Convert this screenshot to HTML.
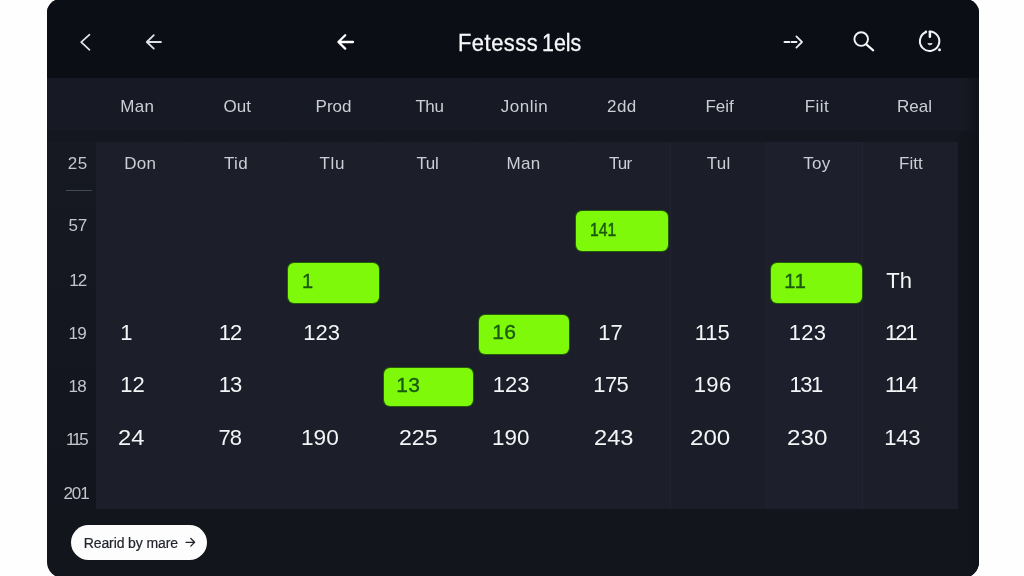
<!DOCTYPE html>
<html lang="en">
<head>
<meta charset="utf-8">
<title>Fetesss 1els</title>
<style>
html,body{margin:0;padding:0;}
body{width:1024px;height:576px;overflow:hidden;background:#fefefe;font-family:"Liberation Sans",sans-serif;position:relative;}
.card{position:absolute;left:46.5px;top:-1px;width:932.5px;height:578.5px;border-radius:14px 14px 16px 16px;background:#13151d;overflow:hidden;}
.topbar{position:absolute;left:0;top:0;width:100%;height:78.5px;background:#0c0e16;}
.wk{position:absolute;left:0;top:78.5px;width:100%;height:53px;background:linear-gradient(90deg,#171a24 0,#171a24 914px,#11131b 931px);}
.band{position:absolute;left:0;top:131.5px;width:100%;height:11px;background:linear-gradient(90deg,#141720 0,#141720 905px,#11131b 928px);}
.leftcol{position:absolute;left:0;top:142.5px;width:49px;height:367px;background:linear-gradient(180deg,#161822,#13151e);}
.grid{position:absolute;left:49px;top:142.5px;width:862.5px;height:367px;background:#1c1f2a;}
.edge{position:absolute;left:920.5px;top:142.5px;width:12px;height:450px;background:linear-gradient(90deg,#13151d,#0f1118);}
.col{position:absolute;top:0;height:100%;}
.vl{position:absolute;top:0;height:100%;width:1px;}
.t{position:absolute;white-space:nowrap;line-height:1;margin:0;}
.txt{position:absolute;left:0;top:0;width:1024px;height:576px;will-change:transform;}
.pill{position:absolute;background:#7ef909;border-radius:6px;box-shadow:0 0 0 1px #245c0b;}
.btn{position:absolute;left:70.5px;top:525px;width:136.5px;height:35px;border-radius:18px;background:#fdfdfd;}
.ul{position:absolute;left:65.5px;top:190.2px;width:26.5px;height:1.2px;background:#454a58;}
svg{position:absolute;left:0;top:0;}
</style>
</head>
<body>
<div class="card">
  <div class="topbar"></div>
  <div class="wk"></div>
  <div class="band"></div>
  <div class="leftcol"></div>
  <div class="grid">
    <div class="col" style="left:575.4px;width:95.9px;background:#1b1e29;"></div>
    <div class="col" style="left:671.3px;width:95.9px;background:#1d202c;"></div>
    <div class="col" style="left:767.2px;width:95.3px;background:#1c1f2a;"></div>
    <div class="vl" style="left:95.4px;background:rgba(255,255,255,0.006);"></div>
    <div class="vl" style="left:191.3px;background:rgba(255,255,255,0.006);"></div>
    <div class="vl" style="left:287.2px;background:rgba(255,255,255,0.006);"></div>
    <div class="vl" style="left:383.1px;background:rgba(255,255,255,0.006);"></div>
    <div class="vl" style="left:479.0px;background:rgba(255,255,255,0.006);"></div>
    <div class="vl" style="left:574.9px;background:rgba(255,255,255,0.022);"></div>
    <div class="vl" style="left:670.8px;background:rgba(255,255,255,0.022);"></div>
    <div class="vl" style="left:766.7px;background:rgba(255,255,255,0.022);"></div>
  </div>
  <div class="edge"></div>
</div>
<div class="ul"></div>
<div class="pill" style="left:575.6px;top:210.7px;width:92.8px;height:40.3px;"></div>
<div class="pill" style="left:287.5px;top:262.5px;width:91px;height:40px;"></div>
<div class="pill" style="left:771px;top:262.5px;width:91px;height:40px;"></div>
<div class="pill" style="left:478.5px;top:315.2px;width:90.5px;height:38.7px;"></div>
<div class="pill" style="left:383.5px;top:367.5px;width:89px;height:38.5px;"></div>
<div class="btn"></div>
<div class="txt">
<div class="t" style="left:120.3px;top:98.1px;font-size:17px;color:#cbced5;letter-spacing:0.3px;">Man</div>
<div class="t" style="left:223.5px;top:98.0px;font-size:17px;color:#cbced5;">Out</div>
<div class="t" style="left:315.6px;top:98.1px;font-size:17px;color:#cbced5;">Prod</div>
<div class="t" style="left:415.4px;top:98.1px;font-size:17px;color:#cbced5;letter-spacing:-0.4px;">Thu</div>
<div class="t" style="left:500.8px;top:98.1px;font-size:17px;color:#cbced5;letter-spacing:0.5px;">Jonlin</div>
<div class="t" style="left:607.1px;top:98.1px;font-size:17px;color:#cbced5;letter-spacing:0.4px;">2dd</div>
<div class="t" style="left:705.4px;top:98.1px;font-size:17px;color:#cbced5;">Feif</div>
<div class="t" style="left:804.8px;top:98.1px;font-size:17px;color:#cbced5;letter-spacing:0.4px;">Fiit</div>
<div class="t" style="left:897.0px;top:98.1px;font-size:17px;color:#cbced5;">Real</div>
<div class="t" style="left:124.3px;top:154.5px;font-size:17px;color:#cbced5;letter-spacing:0.2px;">Don</div>
<div class="t" style="left:223.9px;top:154.5px;font-size:17px;color:#cbced5;letter-spacing:0.4px;">Tid</div>
<div class="t" style="left:319.6px;top:154.5px;font-size:17px;color:#cbced5;letter-spacing:0.6px;">Tlu</div>
<div class="t" style="left:416.4px;top:154.5px;font-size:17px;color:#cbced5;letter-spacing:-0.3px;">Tul</div>
<div class="t" style="left:506.4px;top:154.5px;font-size:17px;color:#cbced5;letter-spacing:0.4px;">Man</div>
<div class="t" style="left:608.9px;top:154.5px;font-size:17px;color:#cbced5;letter-spacing:-0.8px;">Tur</div>
<div class="t" style="left:706.8px;top:154.5px;font-size:17px;color:#cbced5;letter-spacing:0.2px;">Tul</div>
<div class="t" style="left:803.2px;top:154.5px;font-size:17px;color:#cbced5;letter-spacing:0.3px;">Toy</div>
<div class="t" style="left:899.1px;top:154.5px;font-size:17px;color:#cbced5;">Fitt</div>
<div class="t" style="left:67.8px;top:155.3px;font-size:17px;color:#c3c6cd;letter-spacing:0.6px;">25</div>
<div class="t" style="left:68.4px;top:217.1px;font-size:17px;color:#c3c6cd;">57</div>
<div class="t" style="left:69.2px;top:272.0px;font-size:17px;color:#c3c6cd;letter-spacing:-1px;">12</div>
<div class="t" style="left:68.4px;top:325.3px;font-size:17px;color:#c3c6cd;letter-spacing:-0.6px;">19</div>
<div class="t" style="left:68.4px;top:378.0px;font-size:17px;color:#c3c6cd;letter-spacing:-0.6px;">18</div>
<div class="t" style="left:65.9px;top:431.0px;font-size:17px;color:#c3c6cd;letter-spacing:-2.2px;">115</div>
<div class="t" style="left:63.4px;top:484.7px;font-size:17px;color:#c3c6cd;letter-spacing:-1.0px;">201</div>
<div class="t" style="left:886.2px;top:269.9px;font-size:22px;color:#f4f5f7;">Th</div>
<div class="t" style="left:120.3px;top:322.1px;font-size:22px;color:#f4f5f7;">1</div>
<div class="t" style="left:218.7px;top:322.1px;font-size:22px;color:#f4f5f7;letter-spacing:-1px;">12</div>
<div class="t" style="left:303.3px;top:322.1px;font-size:22px;color:#f4f5f7;">123</div>
<div class="t" style="left:598.3px;top:322.1px;font-size:22px;color:#f4f5f7;">17</div>
<div class="t" style="left:694.7px;top:322.1px;font-size:22px;color:#f4f5f7;">115</div>
<div class="t" style="left:788.8px;top:322.1px;font-size:22px;color:#f4f5f7;letter-spacing:0.2px;">123</div>
<div class="t" style="left:885.0px;top:322.1px;font-size:22px;color:#f4f5f7;letter-spacing:-2px;">121</div>
<div class="t" style="left:120.3px;top:374.1px;font-size:22px;color:#f4f5f7;">12</div>
<div class="t" style="left:218.7px;top:374.1px;font-size:22px;color:#f4f5f7;letter-spacing:-1px;">13</div>
<div class="t" style="left:492.7px;top:374.1px;font-size:22px;color:#f4f5f7;">123</div>
<div class="t" style="left:593.3px;top:374.1px;font-size:22px;color:#f4f5f7;letter-spacing:-0.6px;">175</div>
<div class="t" style="left:693.7px;top:374.1px;font-size:22px;color:#f4f5f7;letter-spacing:0.4px;">196</div>
<div class="t" style="left:789.6px;top:374.1px;font-size:22px;color:#f4f5f7;letter-spacing:-1.5px;">131</div>
<div class="t" style="left:885.0px;top:374.1px;font-size:22px;color:#f4f5f7;letter-spacing:-1px;">114</div>
<div class="t" style="left:118.0px;top:427.4px;font-size:22px;color:#f4f5f7;transform:scaleX(1.075);transform-origin:0 0;">24</div>
<div class="t" style="left:218.4px;top:427.4px;font-size:22px;color:#f4f5f7;letter-spacing:-0.8px;">78</div>
<div class="t" style="left:301.2px;top:427.4px;font-size:22px;color:#f4f5f7;transform:scaleX(1.03);transform-origin:0 0;">190</div>
<div class="t" style="left:398.5px;top:427.4px;font-size:22px;color:#f4f5f7;transform:scaleX(1.05);transform-origin:0 0;">225</div>
<div class="t" style="left:492.2px;top:427.4px;font-size:22px;color:#f4f5f7;transform:scaleX(1.02);transform-origin:0 0;">190</div>
<div class="t" style="left:593.8px;top:427.4px;font-size:22px;color:#f4f5f7;transform:scaleX(1.075);transform-origin:0 0;">243</div>
<div class="t" style="left:690.2px;top:427.3px;font-size:22px;color:#f4f5f7;transform:scaleX(1.097);transform-origin:0 0;">200</div>
<div class="t" style="left:787.0px;top:427.3px;font-size:22px;color:#f4f5f7;transform:scaleX(1.1);transform-origin:0 0;">230</div>
<div class="t" style="left:884.3px;top:427.4px;font-size:22px;color:#f4f5f7;letter-spacing:-0.3px;">143</div>
<div class="t" style="left:589.9px;top:220.9px;font-size:18px;color:#1a5a10;-webkit-text-stroke:0.5px #1a5a10;transform:scaleX(0.87);transform-origin:0 0;">141</div>
<div class="t" style="left:301.9px;top:270.6px;font-size:20px;color:#1a5a10;-webkit-text-stroke:0.4px #1a5a10;">1</div>
<div class="t" style="left:784.2px;top:270.6px;font-size:20px;color:#1a5a10;letter-spacing:1px;-webkit-text-stroke:0.4px #1a5a10;">11</div>
<div class="t" style="left:492.3px;top:321.4px;font-size:21px;color:#1a5a10;letter-spacing:0.2px;-webkit-text-stroke:0.35px #1a5a10;">16</div>
<div class="t" style="left:396.3px;top:374.4px;font-size:21px;color:#1a5a10;letter-spacing:0.2px;-webkit-text-stroke:0.35px #1a5a10;">13</div>
<div class="t" style="left:457.6px;top:32.0px;font-size:23px;color:#f7f8fa;letter-spacing:0.55px;-webkit-text-stroke:0.3px #f7f8fa;transform:scaleX(0.95);transform-origin:0 0;">Fetesss</div>
<div class="t" style="left:542.4px;top:32.0px;font-size:23px;color:#f7f8fa;-webkit-text-stroke:0.3px #f7f8fa;transform:scaleX(0.93);transform-origin:0 0;">1els</div>
<div class="t" style="left:83.7px;top:536.2px;font-size:14px;color:#22252c;letter-spacing:-0.1px;-webkit-text-stroke:0.2px #22252c;">Rearid by mare</div>
</div>
<svg width="1024" height="576" viewBox="0 0 1024 576" fill="none" stroke-linecap="round" stroke-linejoin="round">
  <path d="M89.5 34.7 L81.2 42.2 L89.5 49.8" stroke="#e4e6ea" stroke-width="1.7"/>
  <path d="M161 42 H147 M153.8 35.2 L146.8 42 L153.8 48.6" stroke="#dfe1e6" stroke-width="1.8"/>
  <path d="M353 42 H338.6 M345.2 35.2 L338.4 42 L345.2 48.6" stroke="#ffffff" stroke-width="2.3"/>
  <path d="M784.6 42 H789.2 M791.6 42 H796.4" stroke="#f0f1f4" stroke-width="2.2"/>
  <path d="M796.4 36.4 L802 42 L796.4 47.6" stroke="#e8eaee" stroke-width="1.8"/>
  <circle cx="861.2" cy="39.1" r="6.8" stroke="#f4f5f7" stroke-width="1.9"/>
  <path d="M866.3 44.4 L873.2 50.4" stroke="#f4f5f7" stroke-width="2.1"/>
  <path d="M929.60 31.50 A9.7 9.7 0 1 1 925.81 32.27" stroke="#f2f3f6" stroke-width="2"/>
  <circle cx="925.9" cy="31.7" r="1.2" fill="#f2f3f6"/>
  <path d="M929.9 32 V36.8" stroke="#f2f3f6" stroke-width="2.5"/>
  <path d="M928.2 43.7 L932.2 43.7 L930.2 44.8 Z" stroke="#f2f3f6" stroke-width="0.9" fill="#f2f3f6"/>
  <circle cx="939.5" cy="49.8" r="1.5" fill="#f2f3f6"/>
  <path d="M186 542.3 H194.2 M190.8 538.5 L194.6 542.3 L190.8 546.1" stroke="#22252c" stroke-width="1.3"/>
</svg>
</body>
</html>
